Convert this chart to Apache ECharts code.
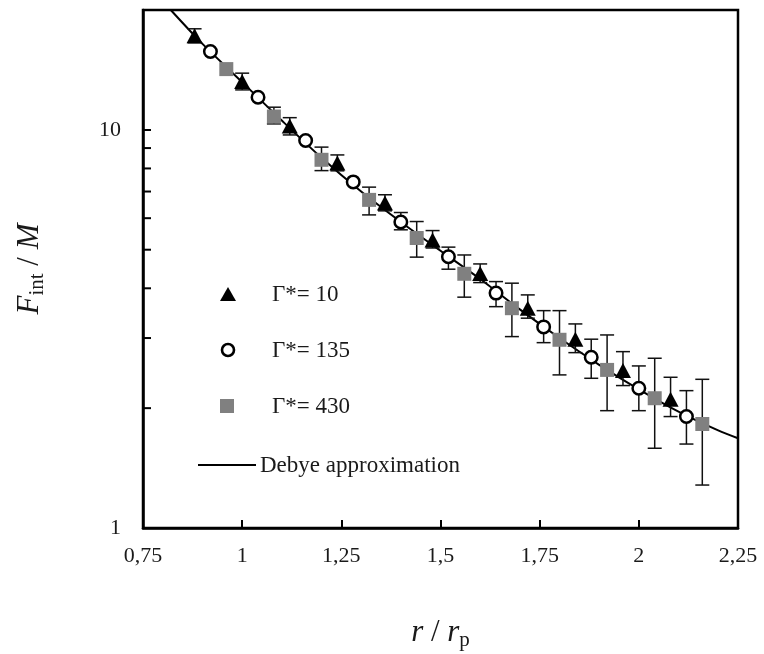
<!DOCTYPE html>
<html><head><meta charset="utf-8">
<script src="https://cdn.jsdelivr.net/npm/echarts@6/dist/echarts.min.js"></script>
<style>html,body{margin:0;padding:0;background:#fff}#c{width:764px;height:654px}</style>
</head><body><div id="c"></div>
<script>
// ---- data ----
const triX  = [0.88, 1.00, 1.12, 1.24, 1.36, 1.48, 1.60, 1.72, 1.84, 1.96, 2.08];
const triY  = [17.23, 13.22, 10.23, 8.26, 6.55, 5.29, 4.36, 3.565, 2.98, 2.485, 2.106];
const triLo = [16.54, 12.6, 9.71, 7.89, 6.26, 5.05, 4.134, 3.365, 2.757, 2.279, 1.905];
const triHi = [17.94, 13.88, 10.73, 8.65, 6.87, 5.585, 4.605, 3.85, 3.255, 2.773, 2.391];

const circX  = [0.92, 1.04, 1.16, 1.28, 1.40, 1.52, 1.64, 1.76, 1.88, 2.00, 2.12];
const circY  = [15.73, 12.08, 9.40, 7.40, 5.87, 4.80, 3.89, 3.20, 2.685, 2.244, 1.905];
const circLo = [null, null, null, null, 5.61, 4.467, 3.597, 2.921, 2.377, 1.971, 1.625];
const circHi = [null, null, null, null, 6.20, 5.075, 4.158, 3.515, 2.98, 2.553, 2.213];

const sqX  = [0.96, 1.08, 1.20, 1.32, 1.44, 1.56, 1.68, 1.80, 1.92, 2.04, 2.16];
const sqY  = [14.21, 10.80, 8.41, 6.67, 5.35, 4.35, 3.565, 2.97, 2.495, 2.118, 1.825];
const sqLo = [null, 10.35, 7.90, 6.115, 4.79, 3.80, 3.025, 2.424, 1.971, 1.586, 1.282];
const sqHi = [null, 11.40, 9.05, 7.18, 5.885, 4.85, 4.12, 3.515, 3.054, 2.669, 2.363];

const debyeX = [0.82, 0.9, 1.0, 1.1, 1.2, 1.3, 1.4, 1.5, 1.6, 1.7, 1.8, 1.9, 2.0, 2.1, 2.2, 2.25];
const debyeY = [20.0, 16.44, 13.18, 10.55, 8.51, 7.0, 5.87, 4.97, 4.22, 3.54, 3.0, 2.57, 2.23, 1.96, 1.758, 1.68];

const xTickValues = [0.75, 1, 1.25, 1.5, 1.75, 2, 2.25];
const xTickLabels = ['0,75', '1', '1,25', '1,5', '1,75', '2', '2,25'];
const yMinorTicks = [2, 3, 4, 5, 6, 7, 8, 9];
const legendNames = ['Γ*= 10', 'Γ*= 135', 'Γ*= 430', 'Debye approximation'];

// ---- build ----
const FONT = '"Liberation Serif", "Times New Roman", serif';
const zip = (xs, ys) => xs.map((x, i) => [x, ys[i]]);
const errData = (xs, lo, hi) => xs.map((x, i) => [x, lo[i], hi[i]]).filter(d => d[1] != null);

function errRender(params, api) {
  const x = api.value(0);
  const pLo = api.coord([x, api.value(1)]);
  const pHi = api.coord([x, api.value(2)]);
  const h = 7;
  const st = { stroke: '#111', lineWidth: 1.5 };
  return { type: 'group', children: [
    { type: 'line', shape: { x1: pLo[0], y1: pLo[1], x2: pHi[0], y2: pHi[1] }, style: st },
    { type: 'line', shape: { x1: pLo[0] - h, y1: pLo[1], x2: pLo[0] + h, y2: pLo[1] }, style: st },
    { type: 'line', shape: { x1: pHi[0] - h, y1: pHi[1], x2: pHi[0] + h, y2: pHi[1] }, style: st }
  ]};
}
function minorTickRender(params, api) {
  const p = api.coord([0.75, api.value(0)]);
  return { type: 'line', shape: { x1: p[0], y1: p[1], x2: p[0] + 8, y2: p[1] }, style: { stroke: '#000', lineWidth: 2 } };
}

const titleRich = {
  i: { fontFamily: FONT, fontStyle: 'italic', fontSize: 31, lineHeight: 36, color: '#1a1a1a' },
  n: { fontFamily: FONT, fontSize: 31, lineHeight: 36, color: '#1a1a1a' },
  s: { fontFamily: FONT, fontSize: 21, lineHeight: 22, verticalAlign: 'bottom', color: '#1a1a1a' }
};

const chart = echarts.init(document.getElementById('c'), null, { renderer: 'canvas' });
const option = {
  animation: false,
  backgroundColor: '#fff',
  grid: { left: 143, right: 26, top: 10, bottom: 126, containLabel: false, outerBoundsMode: 'none',
          show: true, borderColor: '#000', borderWidth: 2.5, backgroundColor: 'transparent' },
  xAxis: {
    type: 'value', min: 0.75, max: 2.25, interval: 0.25,
    axisLine: { show: true, lineStyle: { color: '#000', width: 2.5 } },
    axisTick: { show: true, inside: true, length: 8, lineStyle: { color: '#000', width: 2 } },
    splitLine: { show: false },
    axisLabel: {
      margin: 17, color: '#1a1a1a', fontFamily: FONT, fontSize: 22,
      formatter: v => { const i = xTickValues.findIndex(t => Math.abs(t - v) < 1e-9); return i >= 0 ? xTickLabels[i] : ''; }
    },
    name: '{i|r}{n| / }{i|r}{s|p}', nameLocation: 'middle', nameGap: 87,
    nameTextStyle: { rich: titleRich }
  },
  yAxis: {
    type: 'log', logBase: 10, min: 1, max: 20,
    axisLine: { show: true, lineStyle: { color: '#000', width: 2.5 } },
    axisTick: { show: true, inside: true, length: 8, lineStyle: { color: '#000', width: 2 } },
    minorTick: { show: false },
    splitLine: { show: false },
    axisLabel: {
      margin: 22, color: '#1a1a1a', fontFamily: FONT, fontSize: 22, showMaxLabel: false,
      formatter: v => (Math.abs(v - 1) < 1e-9 || Math.abs(v - 10) < 1e-9) ? String(Math.round(v)) : ''
    },
    name: '{i|F}{s|int}{n| / }{i|M}', nameLocation: 'middle', nameGap: 95, nameRotate: 90,
    nameTextStyle: { rich: titleRich }
  },
  series: [
    { type: 'custom', name: 'ticks', data: yMinorTicks.map(v => [v]), encode: { y: 0 }, renderItem: minorTickRender, silent: true, z: 5, clip: false },
    { type: 'line', name: legendNames[3], data: zip(debyeX, debyeY), showSymbol: false, smooth: 0.3,
      lineStyle: { color: '#000', width: 2 }, z: 1 },
    { type: 'custom', name: 'err10', data: errData(triX, triLo, triHi), encode: { x: 0, y: [1, 2] }, renderItem: errRender, z: 2 },
    { type: 'custom', name: 'err135', data: errData(circX, circLo, circHi), encode: { x: 0, y: [1, 2] }, renderItem: errRender, z: 2 },
    { type: 'custom', name: 'err430', data: errData(sqX, sqLo, sqHi), encode: { x: 0, y: [1, 2] }, renderItem: errRender, z: 2 },
    { type: 'scatter', name: legendNames[0], data: zip(triX, triY), symbol: 'triangle', symbolSize: [16, 15],
      itemStyle: { color: '#000', opacity: 1 }, z: 3 },
    { type: 'scatter', name: legendNames[1], data: zip(circX, circY), symbol: 'circle', symbolSize: 12.5,
      itemStyle: { color: '#fff', borderColor: '#000', borderWidth: 2.5, opacity: 1 }, z: 3 },
    { type: 'scatter', name: legendNames[2], data: zip(sqX, sqY), symbol: 'rect', symbolSize: 14,
      itemStyle: { color: '#808080', opacity: 1 }, z: 3 }
  ],
  graphic: [
    { type: 'polygon', shape: { points: [[220, 301], [236, 301], [228, 287]] }, style: { fill: '#000' } },
    { type: 'circle', shape: { cx: 228, cy: 350, r: 6 }, style: { fill: '#fff', stroke: '#000', lineWidth: 2.6 } },
    { type: 'rect', shape: { x: 220, y: 399, width: 14, height: 14 }, style: { fill: '#808080' } },
    { type: 'line', shape: { x1: 198, y1: 465, x2: 256, y2: 465 }, style: { stroke: '#000', lineWidth: 2 } },
    { type: 'text', x: 272, y: 295, style: { text: legendNames[0], font: '23px ' + FONT, fill: '#1a1a1a', verticalAlign: 'middle' } },
    { type: 'text', x: 272, y: 351, style: { text: legendNames[1], font: '23px ' + FONT, fill: '#1a1a1a', verticalAlign: 'middle' } },
    { type: 'text', x: 272, y: 407, style: { text: legendNames[2], font: '23px ' + FONT, fill: '#1a1a1a', verticalAlign: 'middle' } },
    { type: 'text', x: 260, y: 466, style: { text: legendNames[3], font: '23px ' + FONT, fill: '#1a1a1a', verticalAlign: 'middle' } }
  ]
};
chart.setOption(option);
</script>
</body></html>
